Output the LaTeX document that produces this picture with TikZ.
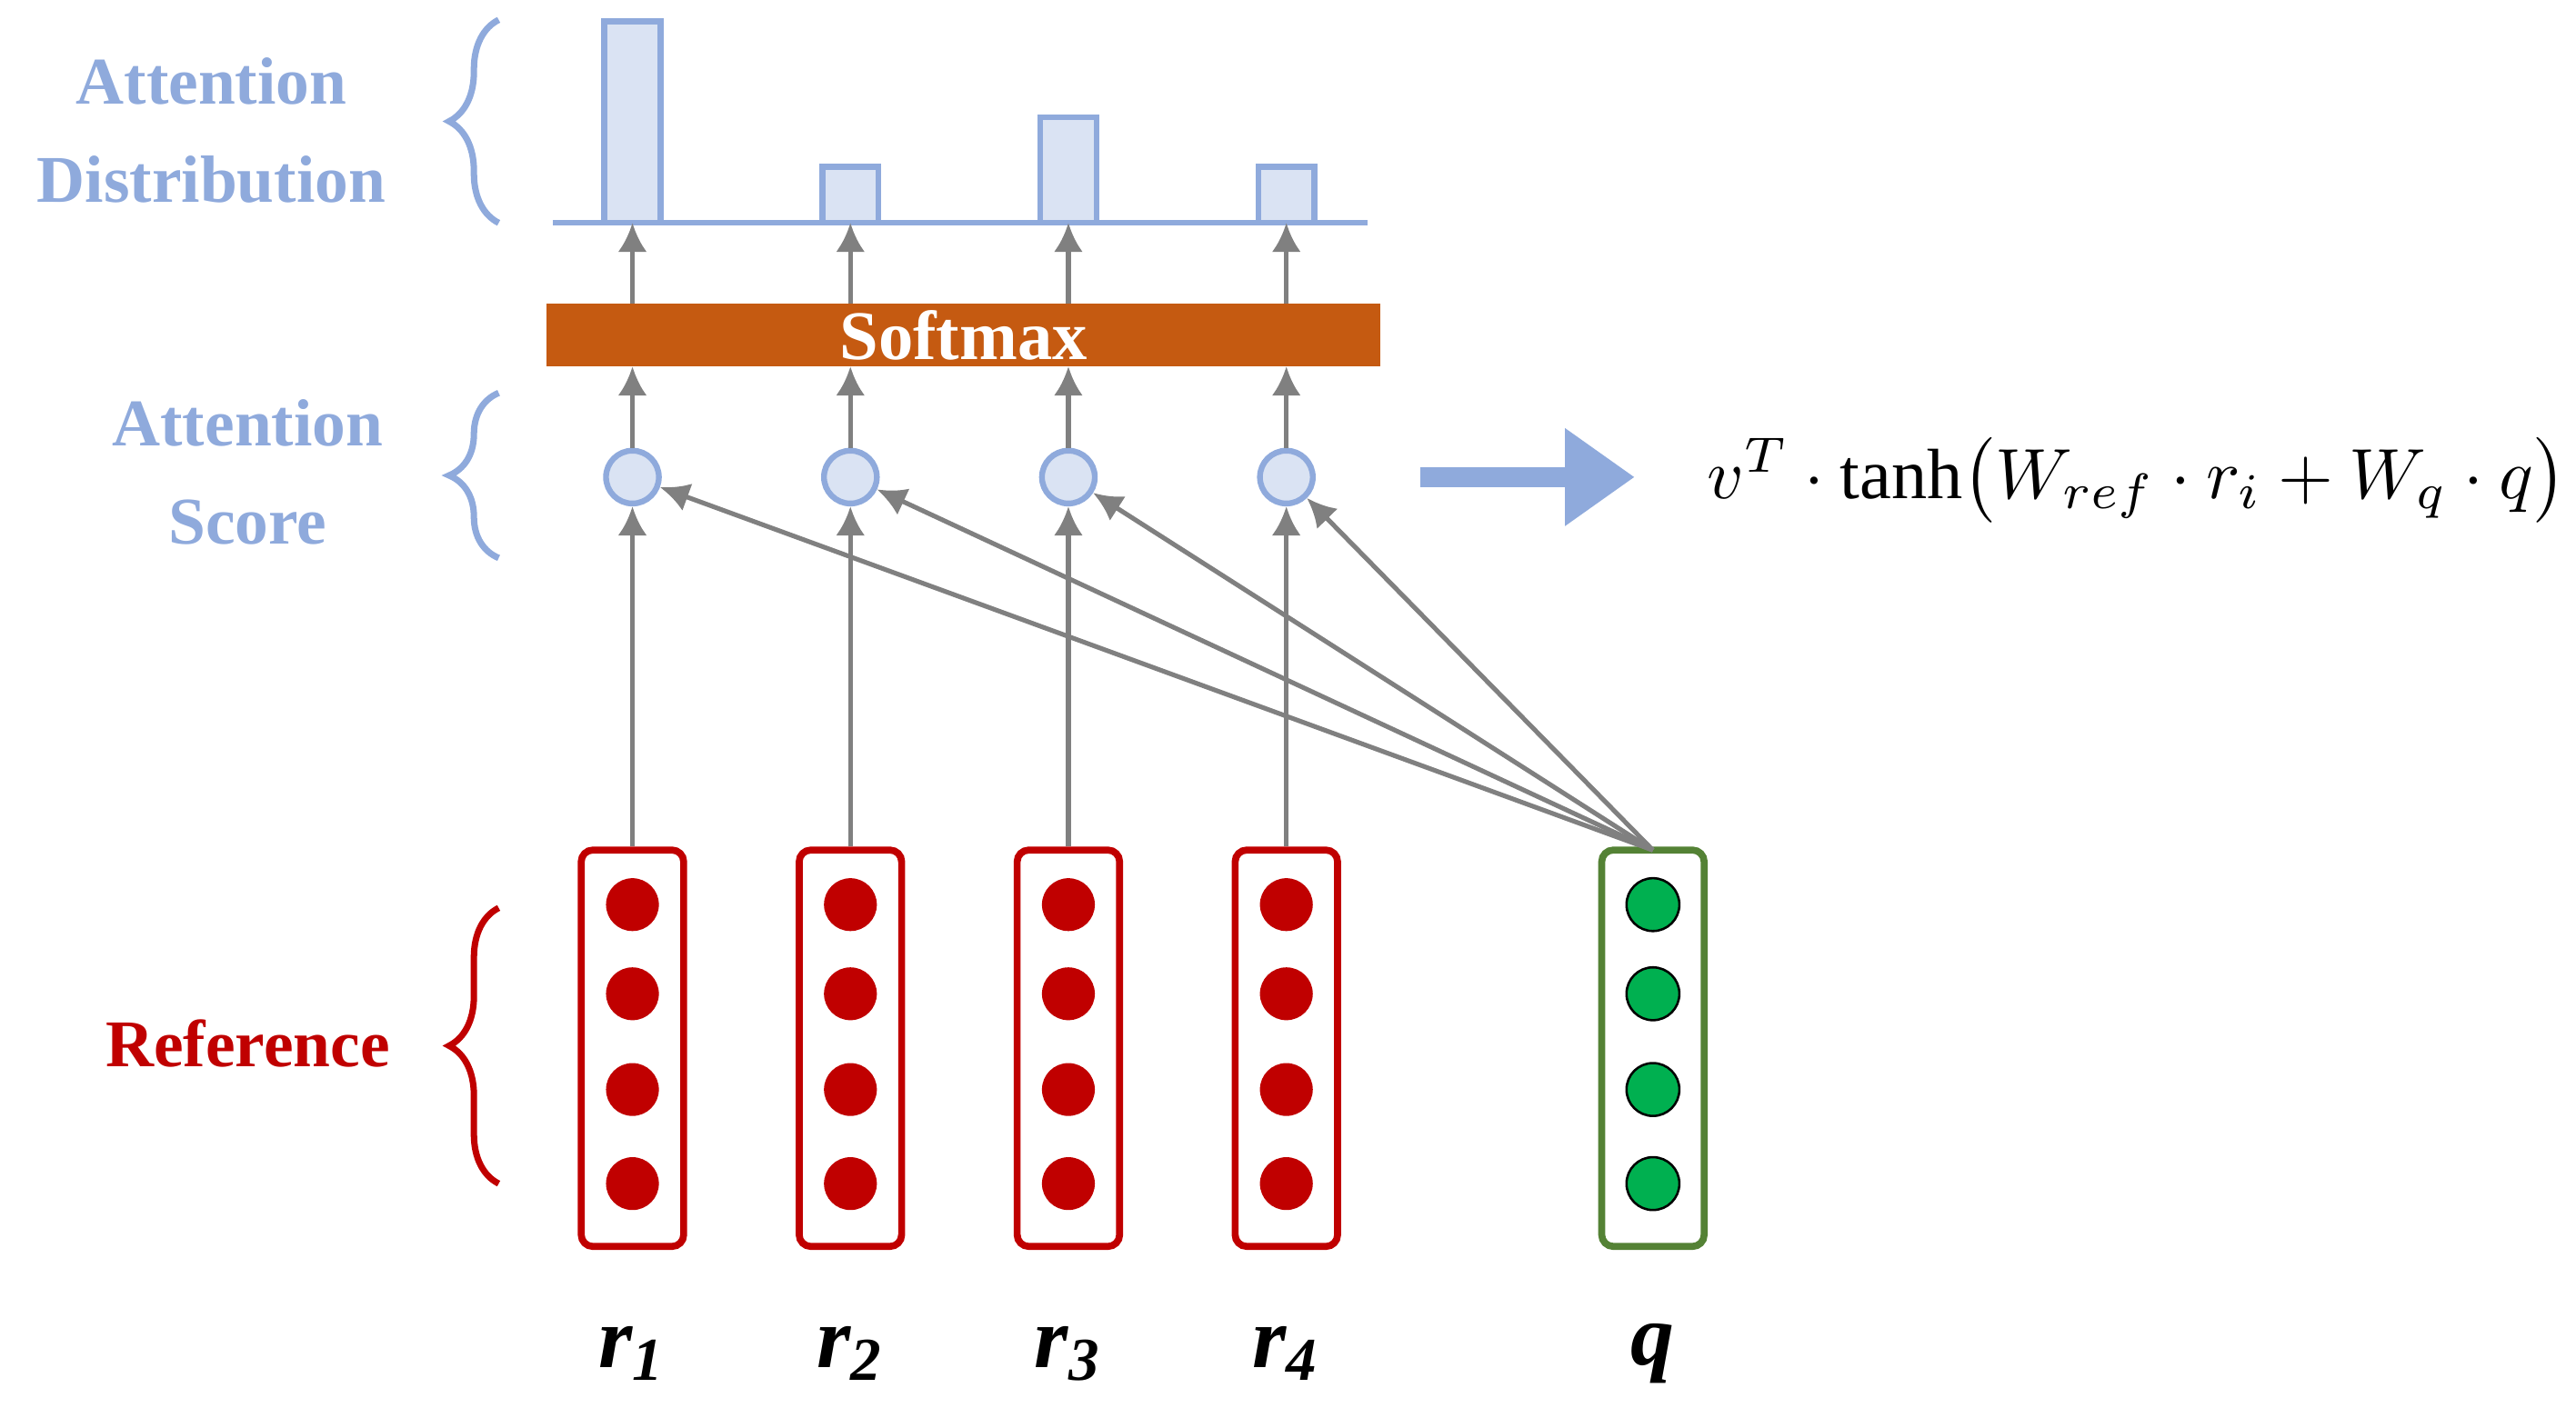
\documentclass[tikz,border=0pt]{standalone}
\usepackage{graphicx}
\usepackage{fontspec}
\setmainfont{Liberation Serif}
\usetikzlibrary{decorations.pathreplacing,arrows.meta}
\definecolor{lb}{RGB}{143,170,220}
\definecolor{lbf}{RGB}{218,227,243}
\definecolor{rd}{RGB}{192,0,0}
\definecolor{gr}{RGB}{84,130,53}
\definecolor{grf}{RGB}{0,176,80}
\definecolor{gy}{RGB}{128,128,128}
\definecolor{og}{RGB}{197,90,17}
\begin{document}
\begin{tikzpicture}[x=0.01cm,y=-0.01cm,
  vec/.style={draw=rd,line width=1.2pt,rounded corners=2pt,minimum width=0.62cm,minimum height=2.4cm,inner sep=0},
  qvec/.style={vec,draw=gr},
  rdot/.style={circle,fill=rd,minimum size=0.32cm,inner sep=0},
  gdot/.style={circle,fill=grf,draw=black,line width=0.4pt,minimum size=0.32cm,inner sep=0},
  sc/.style={circle,fill=lbf,draw=lb,line width=1pt,minimum size=0.32cm,inner sep=0},
  ar/.style={draw=gy,line width=0.8pt,-{Latex[length=5pt,width=5pt]}},
  bar/.style={fill=lbf,draw=lb,line width=1pt},
  br/.style={decorate,decoration={brace,amplitude=0.3cm},line width=1.1pt},
  lab/.style={font=\fontsize{11.5}{13}\selectfont\bfseries,align=center},
  rl/.style={font=\fontsize{15}{17}\selectfont\bfseries\itshape}]
\useasboundingbox (0,0) rectangle (1560,859);
% baseline and bars
\draw[lb,line width=1pt] (335,135) -- (828,135);
\draw[bar] (366,135) rectangle (400,13);
\draw[bar] (498,135) rectangle (532,101);
\draw[bar] (630,135) rectangle (664,71);
\draw[bar] (762,135) rectangle (796,101);
% softmax
\node[fill=og,minimum width=5.05cm,minimum height=0.38cm,inner sep=0,text=white,font=\fontsize{12}{14}\selectfont\bfseries] (sm) at (583.5,203) {Softmax};
% columns
\foreach \i/\x in {1/383,2/515,3/647,4/779}{
  \node[vec] (b\i) at (\x,635) {};
  \foreach \j/\y in {1/548,2/602,3/660,4/717} \node[rdot] (d\i\j) at (\x,\y) {};
  \node[sc] (c\i) at (\x,289) {};
  \draw[ar] (b\i.north) -- (c\i.south);
  \coordinate (s\i) at (\x,222);
  \coordinate (t\i) at (\x,184);
  \coordinate (p\i) at (\x,135);
  \draw[ar] (c\i.north) -- (s\i);
  \draw[ar] (t\i) -- (p\i);
}
\node[rl] (l1) at (383,820) {r\textsubscript{1}};
\node[rl] (l2) at (515,820) {r\textsubscript{2}};
\node[rl] (l3) at (647,820) {r\textsubscript{3}};
\node[rl] (l4) at (779,820) {r\textsubscript{4}};
\node[qvec] (qb) at (1001,635) {};
\foreach \j/\y in {1/548,2/602,3/660,4/717} \node[gdot] (g\j) at (1001,\y) {};
\node[rl] (lq) at (1001,820) {q};
\coordinate (qt) at (1001,515);
\foreach \i in {1,2,3,4} \draw[ar] (qt) -- (c\i);
% braces and labels
\draw[br,lb] (302,135) -- (302,12);
\draw[br,lb] (302,338) -- (302,238);
\draw[br,rd] (302,717) -- (302,550);
\node[lab,text=lb] (ad) at (128,79) {Attention\\[4pt]Distribution};
\node[lab,text=lb] (as) at (150,286) {Attention\\[4pt]Score};
\node[lab,text=rd] (re) at (150,632) {Reference};
% formula
\coordinate (fa) at (860,289);
\coordinate (fb) at (990,289);
\draw[lb,line width=3.5pt,-{Triangle[length=12pt,width=16pt]}] (fa) -- (fb);
\node[anchor=west,inner sep=0] (fm) at (1033,291) {\resizebox{5.2cm}{!}{$v^T\cdot\tanh\bigl(W_{ref}\cdot r_i+W_q\cdot q\bigr)$}};
\end{tikzpicture}
\end{document}
